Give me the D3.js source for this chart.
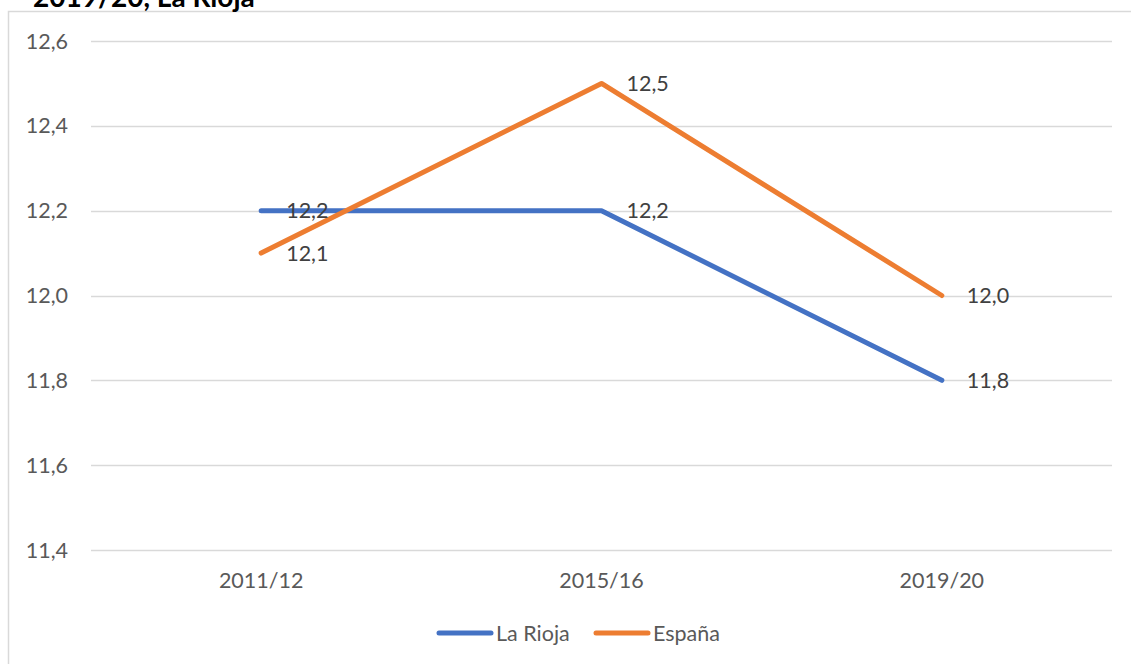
<!DOCTYPE html>
<html><head><meta charset="utf-8">
<script src="https://cdn.jsdelivr.net/npm/d3@7"></script>
<style>html,body{margin:0;padding:0;background:#fff;}svg{display:block;}</style>
</head><body>
<script>
const categories = ["2011/12", "2015/16", "2019/20"];
const seriesNames = ["La Rioja", "España"];
const laRioja = [12.2, 12.2, 11.8];
const espana = [12.1, 12.5, 12.0];
const yTicks = [11.4, 11.6, 11.8, 12.0, 12.2, 12.4, 12.6];
const colors = ["#4472C4", "#ED7D31"];
const title = "2019/20, La Rioja";

const W = 1131, H = 664;
const FS = 21.5;
const svg = d3.select("body").append("svg").attr("width", W).attr("height", H)
  .style("font-family", "Lato, 'Open Sans', sans-serif");

// chart border
svg.append("rect").attr("x", 8.5).attr("y", 11.5).attr("width", 1140).attr("height", 700)
  .attr("fill", "none").attr("stroke", "#d9d9d9").attr("stroke-width", 1.5);

// title (cut off at top, as in the reference)
svg.append("text").attr("x", 33).attr("y", 7).attr("font-size", 28).attr("font-weight", "bold")
  .attr("fill", "#000").text(title);

const x = d3.scalePoint().domain(categories).range([91, 1112]).padding(0.5);
const y = d3.scaleLinear().domain([11.4, 12.6]).range([550, 41]);
const fmt = v => d3.format(".1f")(v).replace(".", ",");

// gridlines
svg.append("g").selectAll("line").data(yTicks).join("line")
  .attr("x1", 91).attr("x2", 1112)
  .attr("y1", d => Math.round(y(d)) + 0.5).attr("y2", d => Math.round(y(d)) + 0.5)
  .attr("stroke", "#d9d9d9").attr("stroke-width", 1.3);

// y axis labels
svg.append("g").selectAll("text").data(yTicks).join("text")
  .attr("x", 68).attr("y", d => y(d)).attr("dy", "0.35em").attr("text-anchor", "end")
  .attr("font-size", FS).attr("fill", "#595959").text(fmt);

// x axis labels
svg.append("g").selectAll("text").data(categories).join("text")
  .attr("x", d => x(d)).attr("y", 580).attr("dy", "0.35em").attr("text-anchor", "middle")
  .attr("font-size", FS).attr("fill", "#595959").text(d => d);

const series = [laRioja, espana];
const line = d3.line().x((d, i) => x(categories[i])).y(d => y(d));

series.forEach((s, k) => {
  svg.append("path").datum(s).attr("d", line).attr("fill", "none")
    .attr("stroke", colors[k]).attr("stroke-width", 5)
    .attr("stroke-linecap", "round").attr("stroke-linejoin", "round");
});

// data labels
series.forEach((s, k) => {
  svg.append("g").selectAll("text").data(s).join("text")
    .attr("x", (d, i) => x(categories[i]) + 25).attr("y", d => y(d)).attr("dy", "0.35em")
    .attr("font-size", FS).attr("fill", "#404040").text(fmt);
});

// legend
const legendItems = [{x1: 439, x2: 491, tx: 496}, {x1: 596, x2: 648, tx: 653}];
legendItems.forEach((it, k) => {
  svg.append("line").attr("x1", it.x1).attr("x2", it.x2).attr("y1", 633).attr("y2", 633)
    .attr("stroke", colors[k]).attr("stroke-width", 5).attr("stroke-linecap", "round");
  svg.append("text").attr("x", it.tx).attr("y", 633).attr("dy", "0.35em")
    .attr("font-size", FS).attr("fill", "#595959").text(seriesNames[k]);
});
</script>
</body></html>
